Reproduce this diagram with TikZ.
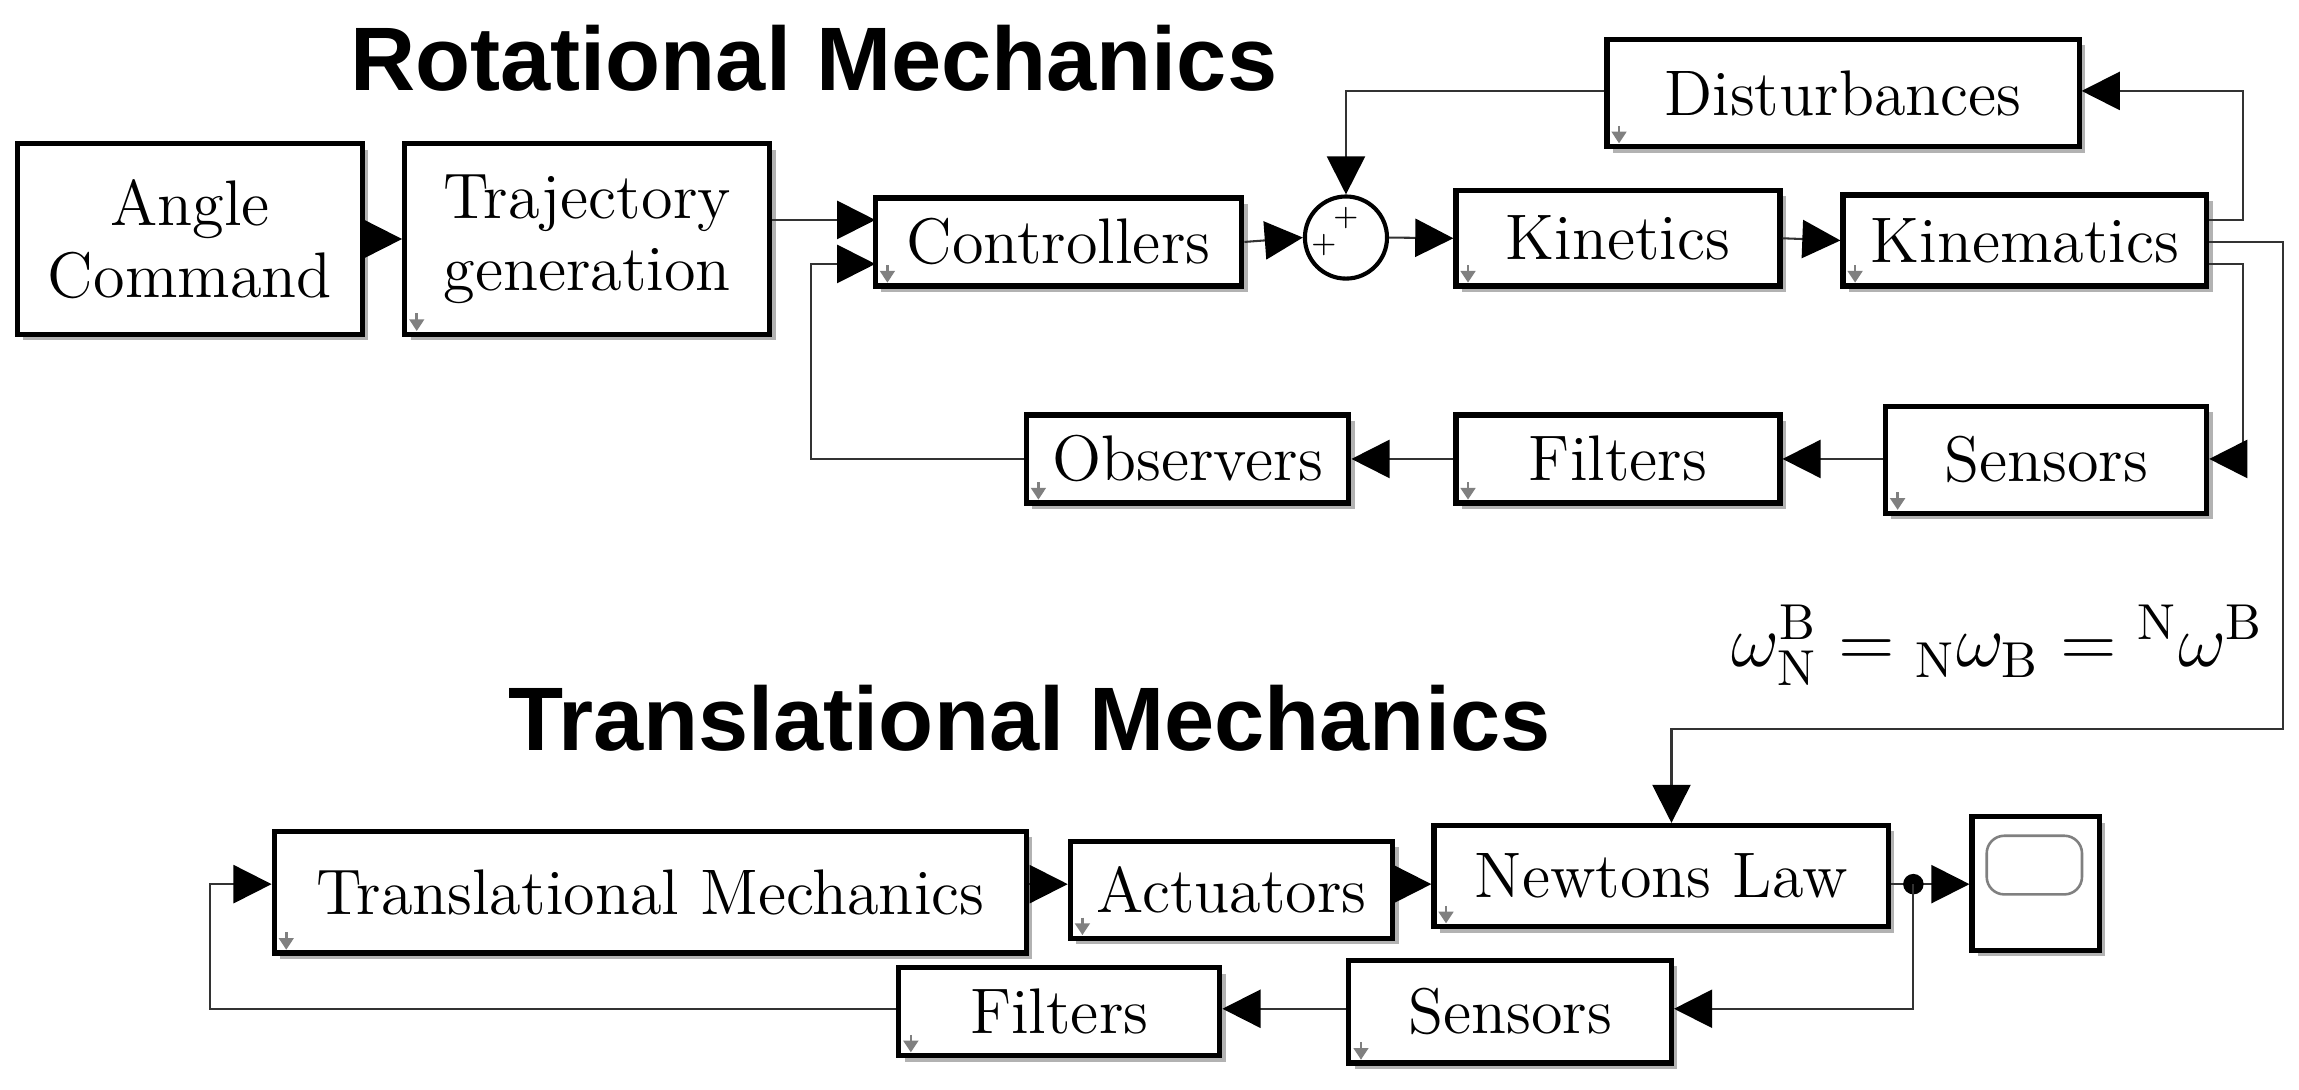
\documentclass[tikz,border=0pt]{standalone}
\usepackage{fontspec}
\newfontfamily\titlefont{Liberation Sans}
\usetikzlibrary{arrows.meta,calc,shadows}
\tikzset{
  x=0.1mm, y=-0.1mm,
  blk/.style={draw, line width=1pt, fill=white, inner sep=0pt, font=\fontsize{12.5}{13}\selectfont,
    drop shadow={shadow xshift=0.4mm, shadow yshift=-0.4mm, fill=black!60}},
  wire/.style={draw=black!80, line width=0.4pt, -{Triangle[length=2.6mm,width=2.6mm,color=black]}},
  line/.style={draw=black!80, line width=0.4pt},
  ttl/.style={font=\titlefont\bfseries\fontsize{17.5}{18}\selectfont},
  cmark/.style={draw=black!50, line width=0.5pt, -{Triangle[length=0.8mm,width=1mm]}},
}
\newcommand{\blkbox}[6]{% name, x1,y1,x2,y2,text
  \node[blk, minimum width={(#4-#2)*0.1mm}, minimum height={(#5-#3)*0.1mm}, align=center]
    (#1) at ({(#2+#4)/2},{(#3+#5)/2}) {#6};}
\begin{document}
\begin{tikzpicture}
\useasboundingbox (0,0) rectangle (1568,743);
\node[ttl] (t1) at (555,40) {Rotational Mechanics};
\node[ttl] (t2) at (702,490) {Translational Mechanics};

\blkbox{ang}{12}{98}{247}{228}{Angle\\[1pt]Command}
\blkbox{traj}{276}{98}{525}{228}{Trajectory\\[1pt]generation}
\blkbox{ctrl}{597}{135}{847}{195}{Controllers}
\node[draw, circle, line width=0.8pt, fill=white, minimum size=5.6mm, inner sep=0pt] (sum) at (918,162) {};
\node[font=\tiny, inner sep=0pt] (p1) at (903,167) {+};
\node[font=\tiny, inner sep=0pt] (p2) at (918,149) {+};
\blkbox{kin}{993}{130}{1214}{195}{Kinetics}
\blkbox{kmt}{1257}{133}{1505}{195}{Kinematics}
\blkbox{dist}{1096}{27}{1418}{100}{Disturbances}
\blkbox{obs}{700}{283}{920}{343}{Observers}
\blkbox{filt}{993}{283}{1214}{343}{Filters}
\blkbox{sens}{1286}{277}{1505}{350}{Sensors}
\blkbox{tm}{187}{567}{700}{650}{Translational Mechanics}
\blkbox{act}{730}{574}{950}{640}{Actuators}
\blkbox{newt}{978}{563}{1288}{632}{Newtons Law}
\blkbox{scope}{1345}{557}{1432}{648}{}
\draw[black!50, line width=0.5pt, rounded corners=1.2mm] (1355,570) rectangle (1420,610);
\blkbox{filt2}{613}{660}{832}{720}{Filters}
\blkbox{sens2}{920}{655}{1140}{725}{Sensors}

% corner marks
\foreach \n in {traj,ctrl,kin,kmt,dist,obs,filt,sens,tm,act,newt,filt2,sens2}
  \draw[cmark] ($(\n.south west)+(10,-16)$) -- ($(\n.south west)+(10,-4)$);

\node[font=\fontsize{14}{15}\selectfont, inner sep=0pt, anchor=east] (eq) at (1545,440)
  {$\omega^{\mathrm{B}}_{\mathrm{N}}={}_{\mathrm{N}}\omega_{\mathrm{B}}={}^{\mathrm{N}}\omega^{\mathrm{B}}$};

% rotational wiring
\coordinate (c1) at (597,150);
\coordinate (c2) at (597,180);
\path[wire] (ang.east) -- (traj.west);
\path[wire] (traj.east |- c1) -- (c1);
\path[wire] (obs.west) -| (553,180) -- (c2);
\path[wire] (ctrl.east) -- (sum.west);
\path[wire] (dist.west |- 0,62) -| (sum.north);
\path[wire] (sum.east) -- (kin.west);
\path[wire] (kin.east) -- (kmt.west);
\path[wire] (kmt.east |- 0,150) -| (1530,62) -- (dist.east |- 0,62);
\path[wire] (kmt.east |- 0,180) -| (1530,313) -- (sens.east |- 0,313);
\path[wire] (kmt.east |- 0,165) -| (1557,497) -| (newt.north -| 1140,0);
\path[wire] (sens.west |- 0,313) -- (filt.east |- 0,313);
\path[wire] (filt.west |- 0,313) -- (obs.east |- 0,313);

% translational wiring
\coordinate (dot) at (1305,603);
\path[wire] (tm.east |- 0,603) -- (act.west |- 0,603);
\path[wire] (act.east |- 0,603) -- (newt.west |- 0,603);
\path[line] (newt.east |- dot) -- (dot);
\path[wire] (dot) -- (scope.west |- dot);
\fill (dot) circle (0.7mm);
\path[wire] (dot) |- (sens2.east |- 0,688);
\path[wire] (sens2.west |- 0,688) -- (filt2.east |- 0,688);
\path[wire] (filt2.west |- 0,688) -| (143,603) -- (tm.west |- 0,603);
\end{tikzpicture}
\end{document}
